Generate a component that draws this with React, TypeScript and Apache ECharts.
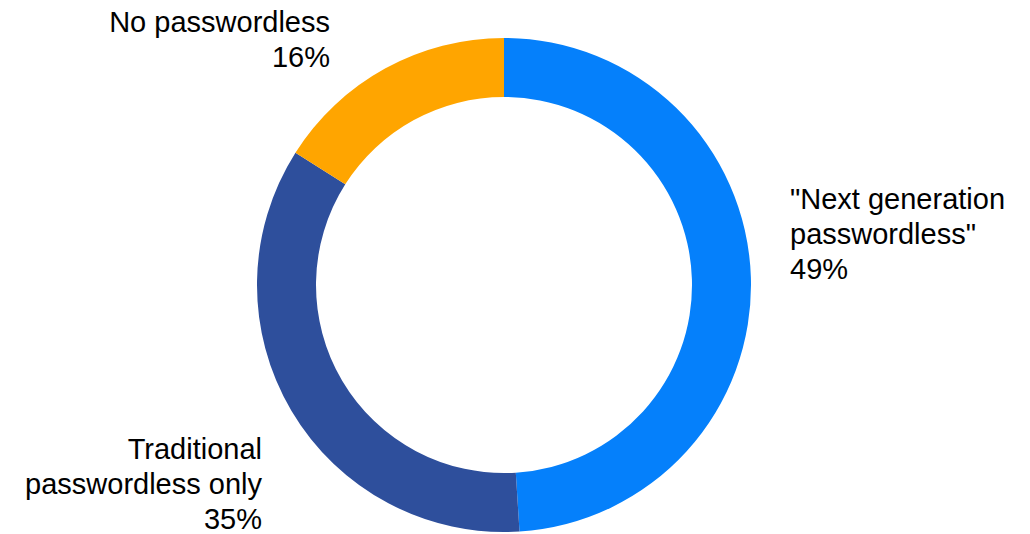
import React, { useEffect, useRef } from "react";
import * as echarts from "echarts";

const categories = ['"Next generation\npasswordless"', "Traditional\npasswordless only", "No passwordless"];
const values = [49, 35, 16];
const colors = ["#0580FB", "#2E4F9C", "#FFA500"];

// label anchor positions (pixels) and alignment
const labelPos = [
  { x: 790, y: 234, align: "left" },
  { x: 262, y: 484, align: "right" },
  { x: 330, y: 39, align: "right" },
];

export default function App() {
  const ref = useRef<HTMLDivElement>(null);
  useEffect(() => {
    if (!ref.current) return;
    const chart = echarts.init(ref.current, null, { renderer: "svg" });
    chart.setOption({
      animation: false,
      series: [
        {
          type: "pie",
          center: [504, 285],
          radius: [188, 247],
          startAngle: 90,
          clockwise: true,
          avoidLabelOverlap: false,
          data: categories.map((name, i) => ({
            name,
            value: values[i],
            itemStyle: { color: colors[i] },
          })),
          label: {
            show: true,
            position: "outside",
            formatter: "{b}\n{c}%",
            fontFamily: "Liberation Sans, Arial, sans-serif",
            fontSize: 29,
            lineHeight: 35,
            color: "#000",
          },
          labelLine: { show: false },
          labelLayout: (p: any) => {
            const lp = labelPos[p.dataIndex];
            return { x: lp.x, y: lp.y, align: lp.align, verticalAlign: "middle" };
          },
          emphasis: { disabled: true },
        },
      ],
    });
    return () => chart.dispose();
  }, []);
  return (
    <div
      ref={ref}
      style={{ position: "fixed", left: 0, top: 0, width: 1030, height: 534, background: "#fff" }}
    />
  );
}
